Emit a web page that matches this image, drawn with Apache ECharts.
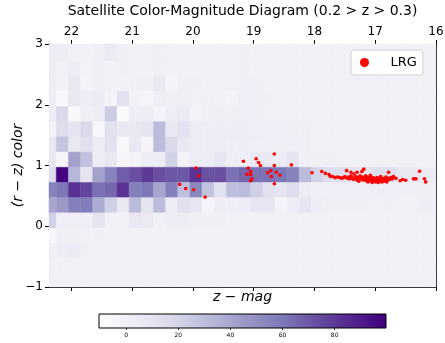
<!DOCTYPE html>
<html><head><meta charset="utf-8">
<script src="https://cdn.jsdelivr.net/npm/echarts@6/dist/echarts.min.js"></script>
<style>html,body{margin:0;padding:0;background:#fff}#c{width:445px;height:343px}</style>
</head><body><div id="c"></div>
<script>
// ---- data ----
const xEdges = [22.45,22.25,22.05,21.85,21.65,21.45,21.25,21.05,20.85,20.65,20.45,20.25,20.05,19.85,19.65,19.45,19.25,19.05,18.85,18.65,18.45,18.25,18.05,17.85,17.65,17.45,17.25,17.05,16.85,16.65,16.45,16.25,16.05,15.85];
const yEdges = [3.22,2.97,2.72,2.47,2.22,1.97,1.72,1.47,1.22,0.97,0.72,0.47,0.22,-0.03,-0.28,-0.53,-0.78,-1.03];
const counts = [
 [4,4,-1,-1,1,6,1,0,0,0, 0,0,0,0,0,0,0,0,0,0, 0,0,0,0,0,0,0,0,0,0, 0,0,0],
 [4,4,-1,-1,1,6,1,0,0,1, 0,0,0,0,0,0,1,0,0,0, 0,0,0,0,0,0,0,0,0,0, 0,0,0],
 [4,-1,4,-2,1,-1,1,0,0,1, 0,0,0,0,0,0,1,0,0,0, 0,0,0,0,0,0,0,0,0,0, 0,0,0],
 [4,-1,7,-3,1,0,-1,1,1,7, -3,1,1,0,0,0,2,1,0,0, 0,0,0,0,0,0,0,0,0,0, 0,0,0],
 [4,-5,8,4,6,-3,12,-1,-4,4, 1,1,0,1,0,-2,3,2,1,0, 0,0,0,0,0,0,0,0,0,0, 0,0,0],
 [4,18,-6,1,4,24,-8,4,4,-3, 4,6,-2,1,1,1,2,1,0,0, 0,0,0,0,0,0,0,0,0,0, 0,0,0],
 [-1,15,10,17,-5,12,7,7,10,31, 7,12,5,4,4,4,4,3,2,2, 1,1,0,0,0,0,0,0,0,0, 0,0,0],
 [8,27,7,13,5,11,-6,7,-3,31, 17,8,5,4,5,3,4,3,2,1, 2,1,0,0,0,0,0,0,0,0, 0,0,0],
 [8,-4,42,29,5,7,-4,-2,5,5, 21,-3,5,5,9,4,2,8,6,4, 10,2,1,1,0,0,0,0,0,0, 0,0,0],
 [15,98,33,10,42,55,68,73,80,73, 70,70,82,72,73,62,66,62,62,60, 56,32,20,16,14,10,10,14,14,8, 8,5,4],
 [56,60,83,76,62,65,82,57,60,40, 57,30,54,28,12,30,31,22,12,9, 15,5,2,2,3,2,2,3,2,2, 1,1,1],
 [40,45,57,58,38,22,8,32,10,31, 5,13,9,-3,4,2,4,9,9,-2, 4,9,4,1,1,1,1,0,1,0, 0,4,1],
 [22,3,3,3,10,0,0,8,6,0, 5,5,1,1,1,0,0,0,0,0, 0,0,0,0,0,0,0,0,0,0, 0,0,0],
 [-5,2,1,0,1,0,0,0,0,0, 0,0,0,0,0,0,0,0,0,0, 0,0,0,0,0,0,0,0,0,0, 0,0,0],
 [1,4,6,1,0,0,0,0,0,0, 0,0,0,0,0,0,0,0,0,0, 0,0,0,0,0,0,0,0,0,0, 0,0,0],
 [0,0,0,0,0,0,0,0,0,0, 0,0,0,0,0,0,0,0,0,0, 0,0,0,0,0,0,0,0,0,0, 0,0,0],
 [0,0,0,0,0,0,0,0,0,0, 0,0,0,0,0,0,0,0,0,0, 0,0,0,0,0,0,0,0,0,0, 0,0,0]
];
const lrg = [
 [20.22,0.69],[20.12,0.62],[19.99,0.60],[19.95,0.96],[19.91,0.83],[19.80,0.48],
 [19.17,1.07],[18.96,1.11],[18.92,1.05],[18.89,1.00],[18.66,1.19],[18.66,1.00],[18.38,1.01],
 [19.09,0.96],[19.05,0.90],[19.11,0.855],[19.05,0.85],[19.03,0.78],[19.05,0.75],
 [18.77,0.88],[18.72,0.915],[18.71,0.82],[18.63,0.89],[18.57,0.84],[18.66,0.70],
 [18.04,0.88],[17.88,0.90],[17.82,0.87],[17.76,0.85],[17.74,0.82],
 [17.70,0.82],[17.66,0.80],[17.62,0.81],[17.58,0.80],[17.55,0.79],[17.52,0.80],[17.50,0.82],[17.47,0.915],
 [17.46,0.79],[17.44,0.81],[17.42,0.78],[17.40,0.83],[17.40,0.89],[17.38,0.80],[17.36,0.77],[17.35,0.86],
 [17.33,0.79],[17.32,0.82],[17.30,0.76],[17.30,0.89],[17.28,0.80],[17.27,0.74],[17.25,0.83],[17.24,0.78],
 [17.22,0.90],[17.21,0.81],[17.20,0.76],[17.19,0.94],[17.18,0.79],[17.16,0.83],[17.15,0.75],[17.14,0.78],
 [17.13,0.81],[17.12,0.73],[17.10,0.77],[17.09,0.80],[17.08,0.84],[17.07,0.75],[17.06,0.78],[17.05,0.72],
 [17.04,0.80],[17.03,0.76],[17.02,0.74],[17.01,0.79],[17.00,0.77],[16.99,0.73],[16.98,0.75],[16.97,0.80],
 [16.96,0.76],[16.95,0.72],[16.94,0.78],[16.93,0.74],[16.92,0.77],[16.91,0.82],[16.90,0.75],[16.89,0.73],
 [16.88,0.78],[16.87,0.76],[16.86,0.74],[16.85,0.79],[16.84,0.77],[16.83,0.75],[16.82,0.81],[16.81,0.73],
 [16.80,0.76],[16.78,0.89],[16.78,0.79],[16.76,0.77],[16.74,0.80],[16.72,0.78],[16.70,0.82],[16.66,0.79],
 [16.59,0.75],[16.55,0.77],[16.50,0.757],[16.37,0.78],[16.33,0.78],[16.27,0.905],[16.19,0.78],[16.17,0.73]
];
const xTicks = [16,17,18,19,20,21,22];
const yTicks = [-1,0,1,2,3];
const cbTicks = [0,20,40,60,80];
const xRange = [16, 22.37];
const yRange = [-1, 3];
const cbRange = [-10.4, 99.7];
const titleText = 'Satellite Color-Magnitude Diagram (0.2 > z > 0.3)';

// ---- style ----
const FONT = 'DejaVu Sans';
const purples = ['#fcfbfd','#efedf5','#dadaeb','#bcbddc','#9e9ac8','#807dba','#6a51a3','#54278f','#3f007d'];

const cells = [];
for (let r = 0; r < counts.length; r++) {
  for (let c = 0; c < counts[r].length; c++) {
    const xa = Math.min(Math.max(xEdges[c], xRange[0]), xRange[1]);
    const xb = Math.min(Math.max(xEdges[c+1], xRange[0]), xRange[1]);
    const ya = Math.min(Math.max(yEdges[r+1], yRange[0]), yRange[1]);
    const yb = Math.min(Math.max(yEdges[r], yRange[0]), yRange[1]);
    if (xa === xb || ya === yb) continue;
    cells.push([xa, xb, ya, yb, counts[r][c]]);
  }
}

const chart = echarts.init(document.getElementById('c'), null, {renderer: 'canvas'});
const minus = v => String(v).replace('-', '\u2212');
const tickStyle = {color: '#000', fontFamily: FONT};

chart.setOption({
  animation: false,
  backgroundColor: '#fff',
  graphic: [{
    type: 'text', x: 242.5, y: 4,
    style: {text: titleText, fontFamily: FONT, fontSize: 14, fill: '#000', textAlign: 'center', textVerticalAlign: 'top'}
  }],
  grid: [
    {left: 49, top: 44, width: 387, height: 243, containLabel: false, outerBoundsMode: 'none'},
    {left: 99, top: 314, width: 287, height: 14, containLabel: false, outerBoundsMode: 'none'}
  ],
  xAxis: [
    {gridIndex: 0, type: 'value', min: xRange[0], max: xRange[1], inverse: true, position: 'top',
     interval: 1,
     axisLine: {show: true, onZero: false, lineStyle: {color: '#000', width: 1}},
     axisTick: {show: true, length: 4, customValues: xTicks, lineStyle: {color: '#000'}},
     axisLabel: {show: true, customValues: xTicks, margin: 6, fontSize: 12, ...tickStyle},
     splitLine: {show: false}},
    {gridIndex: 0, type: 'value', min: xRange[0], max: xRange[1], inverse: true, position: 'bottom',
     interval: 1,
     name: 'z \u2212 mag', nameLocation: 'middle', nameGap: 3, nameMoveOverlap: false,
     nameTextStyle: {fontFamily: FONT, fontSize: 14, fontStyle: 'italic', color: '#000', verticalAlign: 'top'},
     axisLine: {show: true, onZero: false, lineStyle: {color: '#000', width: 1}},
     axisTick: {show: true, length: 4, customValues: xTicks, lineStyle: {color: '#000'}},
     axisLabel: {show: false},
     splitLine: {show: false}},
    {gridIndex: 1, type: 'value', min: cbRange[0], max: cbRange[1],
     axisLine: {show: false},
     axisTick: {show: true, length: 2, customValues: cbTicks, lineStyle: {color: '#000', width: 0.8}},
     axisLabel: {show: true, customValues: cbTicks, margin: 4, fontSize: 6, ...tickStyle},
     splitLine: {show: false}}
  ],
  yAxis: [
    {gridIndex: 0, type: 'value', min: yRange[0], max: yRange[1], interval: 1,
     name: '(r \u2212 z) color', nameLocation: 'middle', nameGap: 24, nameMoveOverlap: false,
     nameTextStyle: {fontFamily: FONT, fontSize: 14, fontStyle: 'italic', color: '#000'},
     axisLine: {show: true, onZero: false, lineStyle: {color: '#000', width: 1}},
     axisTick: {show: true, length: 4, lineStyle: {color: '#000'}},
     axisLabel: {show: true, margin: 6, fontSize: 12, formatter: minus, ...tickStyle},
     splitLine: {show: false}},
    {gridIndex: 0, type: 'value', min: yRange[0], max: yRange[1], position: 'right',
     axisLine: {show: true, onZero: false, lineStyle: {color: '#000', width: 1}},
     axisTick: {show: false}, axisLabel: {show: false}, splitLine: {show: false}},
    {gridIndex: 1, type: 'value', min: 0, max: 1, show: false}
  ],
  visualMap: {
    type: 'continuous', show: false, seriesIndex: 0, dimension: 4,
    min: cbRange[0], max: cbRange[1], inRange: {color: purples}
  },
  legend: {
    data: ['LRG'], left: 351, top: 50, orient: 'vertical',
    padding: [6, 6, 6, 9], itemWidth: 20, itemHeight: 9, icon: 'circle',
    backgroundColor: '#fff', borderColor: '#d0d0d0', borderWidth: 1, borderRadius: 3,
    textStyle: {fontFamily: FONT, fontSize: 13, color: '#000', padding: [0, 0, 0, 11]}
  },
  series: [
    {
      type: 'custom', name: 'hist', xAxisIndex: 0, yAxisIndex: 0,
      encode: {x: [0, 1], y: [2, 3]},
      data: cells, silent: true,
      renderItem: function (params, api) {
        const p0 = api.coord([api.value(0), api.value(3)]);
        const p1 = api.coord([api.value(1), api.value(2)]);
        const col = api.visual('color');
        const x = Math.min(p0[0], p1[0]), y = Math.min(p0[1], p1[1]);
        return {type: 'rect', shape: {x: x, y: y, width: Math.abs(p1[0]-p0[0]), height: Math.abs(p1[1]-p0[1])},
                style: {fill: col, stroke: col, lineWidth: 0.5}};
      },
      z: 1
    },
    {
      type: 'scatter', name: 'LRG', xAxisIndex: 0, yAxisIndex: 0,
      data: lrg, symbol: 'circle', symbolSize: 3.6,
      itemStyle: {color: '#ff0000', opacity: 1}, z: 5
    },
    {
      type: 'custom', name: 'colorbar', xAxisIndex: 2, yAxisIndex: 2,
      encode: {x: [0, 1]}, silent: true,
      data: [[cbRange[0], cbRange[1]]],
      renderItem: function (params, api) {
        const p0 = api.coord([api.value(0), 1]);
        const p1 = api.coord([api.value(1), 0]);
        const stops = purples.map((c, i) => ({offset: i / (purples.length - 1), color: c}));
        return {type: 'rect', shape: {x: p0[0], y: p0[1], width: p1[0]-p0[0], height: p1[1]-p0[1]},
                style: {fill: new echarts.graphic.LinearGradient(0, 0, 1, 0, stops), stroke: '#000', lineWidth: 1}};
      }
    }
  ]
});
</script>
</body></html>
